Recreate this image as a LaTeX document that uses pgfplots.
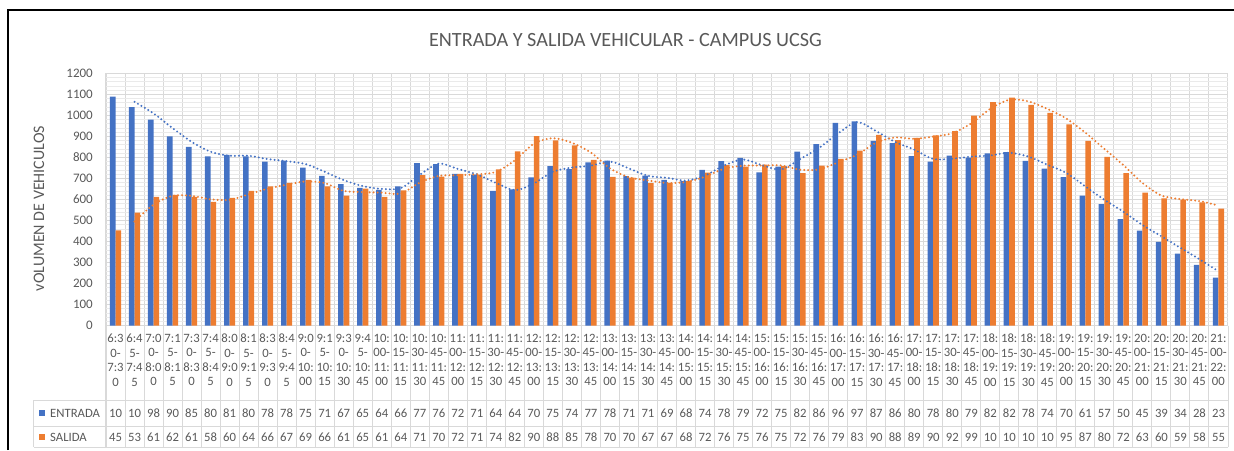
\documentclass[border=0pt]{standalone}
\usepackage{pgfplots}
\pgfplotsset{compat=1.18}
\usepackage{fontspec}
\setmainfont{Carlito}
\definecolor{cblue}{HTML}{4472C4}
\definecolor{corange}{HTML}{ED7D31}
\definecolor{cgrid}{HTML}{D9D9D9}
\definecolor{cminor}{HTML}{EAEAEA}
\definecolor{ctext}{HTML}{595959}
\def\cw{19.0169}
\begin{document}
\begin{tikzpicture}
\useasboundingbox (-106pt,-124.5pt) rectangle (1128pt,325.5pt);
\begin{axis}[
  at={(0pt,0pt)}, anchor=south west,
  scale only axis, width=1122pt, height=252pt,
  xmin=0.5, xmax=59.5, ymin=0, ymax=1200,
  axis line style={draw=none},
  ytick={0,100,...,1200},
  xtick={1,...,59},
  minor xtick={0.5,1.5,...,59.5},
  xminorgrids, ymajorgrids, yminorgrids,
  minor y tick num=4,
  major tick length=0pt, minor tick length=0pt,
  major grid style={draw=cgrid, line width=1pt},
  minor x grid style={draw=cgrid, line width=1pt},
  minor y grid style={draw=cminor, line width=0.8pt},
  /pgf/number format/assume math mode=true,
  /pgf/number format/1000 sep={},
  yticklabel style={font=\fontsize{13}{15}\selectfont, text=ctext, anchor=east, inner sep=0pt, xshift=-13pt},
  xticklabel style={font=\fontsize{12.7}{14.5}\selectfont, text=ctext, align=center, anchor=north, inner sep=0pt, yshift=-8.5pt},
  xticklabels={
{6:3\\0-\\7:3\\0},{6:4\\5-\\7:4\\5},{7:0\\0-\\8:0\\0},{7:1\\5-\\8:1\\5},{7:3\\0-\\8:3\\0},{7:4\\5-\\8:4\\5},
{8:0\\0-\\9:0\\0},{8:1\\5-\\9:1\\5},{8:3\\0-\\9:3\\0},{8:4\\5-\\9:4\\5},
{9:0\\0-\\10:\\00},{9:1\\5-\\10:\\15},{9:3\\0-\\10:\\30},{9:4\\5-\\10:\\45},
{10:\\00-\\11:\\00},{10:\\15-\\11:\\15},{10:\\30-\\11:\\30},{10:\\45-\\11:\\45},
{11:\\00-\\12:\\00},{11:\\15-\\12:\\15},{11:\\30-\\12:\\30},{11:\\45-\\12:\\45},
{12:\\00-\\13:\\00},{12:\\15-\\13:\\15},{12:\\30-\\13:\\30},{12:\\45-\\13:\\45},
{13:\\00-\\14:\\00},{13:\\15-\\14:\\15},{13:\\30-\\14:\\30},{13:\\45-\\14:\\45},
{14:\\00-\\15:\\00},{14:\\15-\\15:\\15},{14:\\30-\\15:\\30},{14:\\45-\\15:\\45},
{15:\\00-\\16:\\00},{15:\\15-\\16:\\15},{15:\\30-\\16:\\30},{15:\\45-\\16:\\45},
{16:\\00-\\17:\\00},{16:\\15-\\17:\\15},{16:\\30-\\17:\\30},{16:\\45-\\17:\\45},
{17:\\00-\\18:\\00},{17:\\15-\\18:\\15},{17:\\30-\\18:\\30},{17:\\45-\\18:\\45},
{18:\\00-\\19:\\00},{18:\\15-\\19:\\15},{18:\\30-\\19:\\30},{18:\\45-\\19:\\45},
{19:\\00-\\20:\\00},{19:\\15-\\20:\\15},{19:\\30-\\20:\\30},{19:\\45-\\20:\\45},
{20:\\00-\\21:\\00},{20:\\15-\\21:\\15},{20:\\30-\\21:\\30},{20:\\45-\\21:\\45},
{21:\\00-\\22:\\00}},
]
% ENTRADA
\addplot[ybar, bar width=5.6pt, bar shift=-2.8pt, fill=cblue, draw=none] coordinates {
(1,1090)(2,1040)(3,980)(4,900)(5,850)(6,805)(7,812)(8,805)(9,780)(10,785)
(11,752)(12,712)(13,673)(14,655)(15,646)(16,662)(17,773)(18,769)(19,722)(20,718)
(21,641)(22,648)(23,705)(24,759)(25,745)(26,777)(27,785)(28,711)(29,714)(30,693)
(31,687)(32,741)(33,783)(34,798)(35,729)(36,757)(37,828)(38,864)(39,965)(40,972)
(41,879)(42,869)(43,806)(44,780)(45,809)(46,799)(47,820)(48,825)(49,784)(50,747)
(51,706)(52,619)(53,578)(54,506)(55,452)(56,398)(57,342)(58,289)(59,228)};
% SALIDA
\addplot[ybar, bar width=5.6pt, bar shift=2.8pt, fill=corange, draw=none] coordinates {
(1,453)(2,538)(3,613)(4,622)(5,613)(6,589)(7,608)(8,641)(9,662)(10,679)
(11,693)(12,663)(13,619)(14,652)(15,613)(16,644)(17,716)(18,709)(19,722)(20,718)
(21,744)(22,829)(23,902)(24,882)(25,858)(26,789)(27,708)(28,704)(29,678)(30,679)
(31,688)(32,728)(33,765)(34,757)(35,766)(36,759)(37,725)(38,761)(39,793)(40,833)
(41,908)(42,883)(43,894)(44,905)(45,926)(46,999)(47,1064)(48,1085)(49,1050)(50,1013)
(51,958)(52,879)(53,803)(54,725)(55,633)(56,605)(57,599)(58,586)(59,556)};
% 2-period moving averages
\addplot[cblue, smooth, line width=2.2pt, line cap=round, dash pattern=on 0pt off 4pt] coordinates {
(2,1065)(3,1010)(4,940)(5,875)(6,827.5)(7,808.5)(8,808.5)(9,792.5)(10,782.5)
(11,768.5)(12,732)(13,692.5)(14,664)(15,650.5)(16,654)(17,717.5)(18,771)(19,745.5)(20,720)
(21,679.5)(22,644.5)(23,676.5)(24,732)(25,752)(26,761)(27,781)(28,748)(29,712.5)(30,703.5)
(31,690)(32,714)(33,762)(34,790.5)(35,763.5)(36,743)(37,792.5)(38,846)(39,914.5)(40,968.5)
(41,925.5)(42,874)(43,837.5)(44,793)(45,794.5)(46,804)(47,809.5)(48,822.5)(49,804.5)(50,765.5)
(51,726.5)(52,662.5)(53,598.5)(54,542)(55,479)(56,425)(57,370)(58,315.5)(59,258.5)};
\addplot[corange, smooth, line width=2.2pt, line cap=round, dash pattern=on 0pt off 4pt] coordinates {
(2,495.5)(3,575.5)(4,617.5)(5,617.5)(6,601)(7,598.5)(8,624.5)(9,651.5)(10,670.5)
(11,686)(12,678)(13,641)(14,635.5)(15,632.5)(16,628.5)(17,680)(18,712.5)(19,715.5)(20,720)
(21,731)(22,786.5)(23,865.5)(24,892)(25,870)(26,823.5)(27,748.5)(28,706)(29,691)(30,678.5)
(31,683.5)(32,708)(33,746.5)(34,761)(35,761.5)(36,762.5)(37,742)(38,743)(39,777)(40,813)
(41,870.5)(42,895.5)(43,888.5)(44,899.5)(45,915.5)(46,962.5)(47,1031.5)(48,1074.5)(49,1067.5)(50,1031.5)
(51,985.5)(52,918.5)(53,841)(54,764)(55,679)(56,619)(57,602)(58,592.5)(59,571)};
\end{axis}
% title and axis title
\node[font=\fontsize{20.2}{23}\selectfont, text=ctext] at (519.5pt,285.5pt) {ENTRADA Y SALIDA VEHICULAR - CAMPUS UCSG};
\node[font=\fontsize{16}{18}\selectfont, text=ctext, rotate=90] at (-67pt,117pt) {vOLUMEN DE VEHICULOS};
% data table lines
\begin{scope}[draw=cgrid, line width=1pt]
\foreach \i in {0,...,59} \draw ({\i*\cw pt},0pt) -- ({\i*\cw pt},-121.5pt);
\draw (-72pt,-74.5pt) -- (1122pt,-74.5pt);
\draw (-72pt,-100.5pt) -- (1122pt,-100.5pt);
\draw (-72pt,-121.5pt) -- (1122pt,-121.5pt);
\draw (-72pt,-74.5pt) -- (-72pt,-121.5pt);
\end{scope}
\fill[cblue] (-66.7pt,-90pt) rectangle (-61.2pt,-84.5pt);
\fill[corange] (-66.7pt,-114pt) rectangle (-61.2pt,-108.5pt);
\node[font=\fontsize{12.7}{14.5}\selectfont, text=ctext, anchor=west, inner sep=0pt] at (-56pt,-87.5pt) {ENTRADA};
\node[font=\fontsize{12.7}{14.5}\selectfont, text=ctext, anchor=west, inner sep=0pt] at (-56pt,-111.5pt) {SALIDA};
\foreach \v [count=\i] in {10,10,98,90,85,80,81,80,78,78,75,71,67,65,64,66,77,76,72,71,64,64,70,75,74,77,78,71,71,69,68,74,78,79,72,75,82,86,96,97,87,86,80,78,80,79,82,82,78,74,70,61,57,50,45,39,34,28,23}
  \node[font=\fontsize{12.7}{14.5}\selectfont, text=ctext, inner sep=0pt] at ({(\i-0.5)*\cw pt},-87.5pt) {\v};
\foreach \v [count=\i] in {45,53,61,62,61,58,60,64,66,67,69,66,61,65,61,64,71,70,72,71,74,82,90,88,85,78,70,70,67,67,68,72,76,75,76,75,72,76,79,83,90,88,89,90,92,99,10,10,10,10,95,87,80,72,63,60,59,58,55}
  \node[font=\fontsize{12.7}{14.5}\selectfont, text=ctext, inner sep=0pt] at ({(\i-0.5)*\cw pt},-111.5pt) {\v};
% outer frame (left and top)
\draw[black, line width=2pt] (-98pt,-124.5pt) -- (-98pt,315.5pt) -- (1128pt,315.5pt);
\end{tikzpicture}
\end{document}
